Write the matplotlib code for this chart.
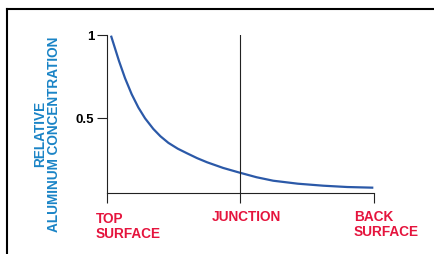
import matplotlib.pyplot as plt
from matplotlib.lines import Line2D

# depth position: 0 = top surface, 1 = junction, 2 = back surface
depth = [0.03, 0.09, 0.135, 0.185, 0.235, 0.285, 0.347, 0.40, 0.46, 0.53, 0.60, 0.675,
         0.75, 0.87, 0.983, 1.12, 1.245, 1.43, 1.62, 1.80, 1.995]
conc = [0.996, 0.843, 0.740, 0.643, 0.563, 0.498, 0.434, 0.390, 0.350, 0.315, 0.287, 0.258,
        0.233, 0.199, 0.173, 0.143, 0.122, 0.104, 0.092, 0.084, 0.080]
yticks = [0.5, 1]
ytick_labels = ['0.5', '1']
x_labels = ['TOP\nSURFACE', 'JUNCTION', 'BACK\nSURFACE']

W, H = 434, 255
plt.rcParams['font.family'] = ['Liberation Sans', 'DejaVu Sans']
fig = plt.figure(figsize=(W / 100, H / 100), dpi=100)

# axes box in pixels: x 107..374, y 36..194 (from top)
ax = fig.add_axes([107 / W, 1 - 194 / H, (374 - 107) / W, (194 - 36) / H])
ax.set_xlim(0, 2)
ax.set_ylim(0.048, 1)

axis_col = '#222222'
ax.plot(depth, conc, color='#2b59a8', lw=1.6, solid_capstyle='butt', solid_joinstyle='round')
ax.axvline(1, color=axis_col, lw=0.8)

for s in ['top', 'right']:
    ax.spines[s].set_visible(False)
for s in ['left', 'bottom']:
    ax.spines[s].set_color(axis_col)
    ax.spines[s].set_linewidth(0.8)

ax.set_xticks([0, 1, 2])
ax.set_xticklabels([])
ax.tick_params(axis='x', length=7, width=0.8, color=axis_col, direction='out')
ax.set_yticks(yticks)
ax.set_yticklabels(ytick_labels, fontsize=9.5, fontweight='bold')
ax.tick_params(axis='y', length=7.5, width=0.8, color=axis_col, direction='out', pad=1.5)

red = '#e5143d'
fig.text(96 / W, 1 - 212 / H, x_labels[0], color=red, fontsize=9.8, fontweight='bold',
         ha='left', va='top', linespacing=1.05)
fig.text(246 / W, 1 - 210.5 / H, x_labels[1], color=red, fontsize=9.8, fontweight='bold',
         ha='center', va='top')
fig.text(354 / W, 1 - 210.5 / H, x_labels[2], color=red, fontsize=9.8, fontweight='bold',
         ha='left', va='top', linespacing=1.05)

fig.text(47 / W, 1 - 134 / H, 'RELATIVE\nALUMINUM CONCENTRATION', color='#1a84c6',
         fontsize=9.8, fontweight='bold', rotation=90, ha='center', va='center',
         multialignment='center', linespacing=1.05)

# frame lines on top and left
fig.add_artist(Line2D([7 / W, 1], [1 - 9.5 / H, 1 - 9.5 / H], color='black', lw=1.5,
                      transform=fig.transFigure))
fig.add_artist(Line2D([7 / W, 7 / W], [0, 1 - 9.5 / H], color='black', lw=1.5,
                      transform=fig.transFigure))

fig.savefig('out.png', dpi=100)
